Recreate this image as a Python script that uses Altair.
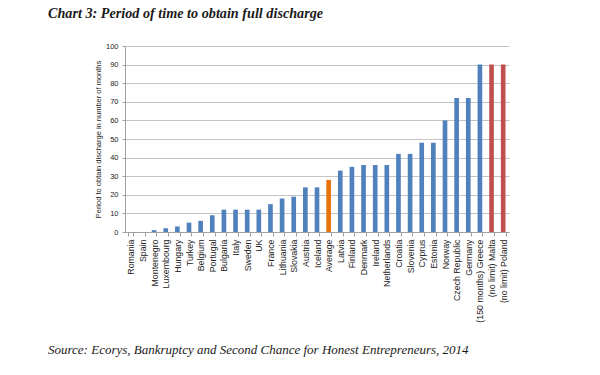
import altair as alt
import pandas as pd

countries = ["Romania", "Spain", "Montenegro", "Luxembourg", "Hungary", "Turkey", "Belgium",
             "Portugal", "Bulgaria", "Italy", "Sweden", "UK", "France", "Lithuania", "Slovakia",
             "Austria", "Iceland", "Average", "Latvia", "Finland", "Denmark", "Ireland",
             "Netherlands", "Croatia", "Slovenia", "Cyprus", "Estonia", "Norway",
             "Czech Republic", "Germany", "(150 months) Greece", "(no limit) Malta",
             "(no limit) Poland"]
months = [0, 0, 1, 2, 3, 5, 6, 9, 12, 12, 12, 12, 15, 18, 19, 24, 24, 28, 33, 35, 36, 36, 36,
          42, 42, 48, 48, 60, 72, 72, 90, 90, 90]
groups = ["country"] * 17 + ["average"] + ["country"] * 13 + ["no limit"] * 2

title_text = "Chart 3: Period of time to obtain full discharge"
source_text = "Source: Ecorys, Bankruptcy and Second Chance for Honest Entrepreneurs, 2014"

df = pd.DataFrame({"country": countries, "months": months, "group": groups})

bars = alt.Chart(df).mark_bar().encode(
    x=alt.X("country:N", sort=None,
            scale=alt.Scale(paddingInner=0.6, paddingOuter=0.3),
            axis=alt.Axis(title=None, labelAngle=-90, labelFont="Liberation Sans",
                          labelFontSize=8.8, labelColor="#222222", labelPadding=3,
                          tickBand="extent", tickSize=4, tickColor="#a0a0a0",
                          domainColor="#a0a0a0", grid=False)),
    y=alt.Y("months:Q", scale=alt.Scale(domain=[0, 100]),
            axis=alt.Axis(values=list(range(0, 101, 10)),
                          title="Period to obtain discharge in number of months",
                          titleFont="Liberation Sans", titleFontSize=7.5, titleFontWeight="normal",
                          titleColor="#222222", titlePadding=3,
                          labelFont="Liberation Sans", labelFontSize=7.5, labelColor="#222222",
                          labelPadding=4, tickSize=3, tickColor="#a0a0a0",
                          domainColor="#a0a0a0", gridColor="#c4c4c4", gridWidth=1)),
    color=alt.Color("group:N",
                    scale=alt.Scale(domain=["country", "average", "no limit"],
                                    range=["#4F81BD", "#E8740C", "#C0504D"]),
                    legend=None),
)

title = alt.Chart(pd.DataFrame({"t": [title_text]})).mark_text(
    align="left", baseline="alphabetic", font="Liberation Serif", fontSize=14.2,
    fontStyle="italic", fontWeight="bold", color="#1a1a1a"
).encode(text="t:N", x=alt.value(-77), y=alt.value(-28))

source = alt.Chart(pd.DataFrame({"t": [source_text]})).mark_text(
    align="left", baseline="alphabetic", font="Liberation Serif", fontSize=13,
    fontStyle="italic", color="#1a1a1a"
).encode(text="t:N", x=alt.value(-77), y=alt.value(308))

chart = alt.layer(bars, title, source).properties(
    width=384, height=186,
    autosize=alt.AutoSizeParams(type="none"),
    padding={"left": 125, "top": 46, "right": 91, "bottom": 143},
    background="white",
).configure_view(stroke=None)

chart.save("out.html", embed_options={"renderer": "svg", "actions": False})
